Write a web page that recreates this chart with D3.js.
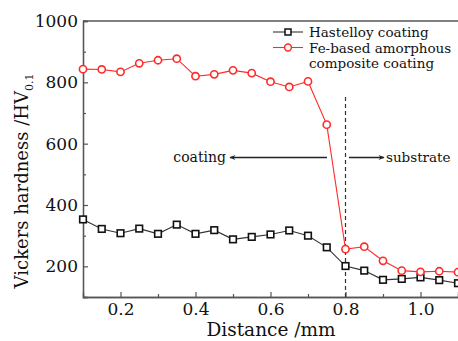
<!DOCTYPE html>
<html>
<head>
<meta charset="utf-8">
<script src="https://cdn.jsdelivr.net/npm/d3@7"></script>
<style>
  body { margin: 0; background: #fff; }
  svg, svg text { font-family: "DejaVu Serif", serif; }
</style>
</head>
<body>
<div id="chart"></div>
<script>
// distance along the cross section (mm)
const distance = [0.1, 0.15, 0.2, 0.25, 0.3, 0.35, 0.4, 0.45, 0.5, 0.55, 0.6, 0.65,
                  0.7, 0.75, 0.8, 0.85, 0.9, 0.95, 1.0, 1.05, 1.1];
const hastelloy = [353, 322, 308, 323, 306, 336, 306, 318, 288, 296, 304, 317,
                   300, 262, 201, 186, 156, 159, 164, 155, 145];
const feBased = [843, 842, 834, 862, 872, 877, 820, 826, 839, 830, 802, 785,
                 803, 662, 256, 264, 218, 186, 182, 184, 181];
const xTicks = [0.2, 0.4, 0.6, 0.8, 1.0];
const yTicks = [200, 400, 600, 800, 1000];
const legendNames = ["Hastelloy coating", "Fe-based amorphous", "composite coating"];

const W = 458, H = 341;
const m = {left: 83, top: 21, right: 0, bottom: 44};

const svg = d3.select("#chart").append("svg").attr("width", W).attr("height", H);

const x = d3.scaleLinear().domain([0.1, 1.1]).range([m.left, W - m.right]);
const y = d3.scaleLinear().domain([100, 1000]).range([H - m.bottom, m.top]);

const axisCol = "#555";

// top frame line
svg.append("line").attr("x1", m.left).attr("x2", W).attr("y1", m.top).attr("y2", m.top)
  .attr("stroke", axisCol).attr("stroke-width", 1.3);

// x axis (ticks pointing inward)
const xa = svg.append("g").attr("transform", `translate(0,${H - m.bottom})`)
  .call(d3.axisBottom(x).tickValues(xTicks).tickSize(-5).tickPadding(8).tickFormat(d3.format(".1f")));
const xm = svg.append("g").attr("transform", `translate(0,${H - m.bottom})`)
  .call(d3.axisBottom(x).tickValues([0.3, 0.5, 0.7, 0.9]).tickSize(-3).tickFormat(""));

// y axis
const ya = svg.append("g").attr("transform", `translate(${m.left},0)`)
  .call(d3.axisLeft(y).tickValues(yTicks).tickSize(-5).tickPadding(5).tickFormat(d3.format("d")));
const ym = svg.append("g").attr("transform", `translate(${m.left},0)`)
  .call(d3.axisLeft(y).tickValues([300, 500, 700, 900]).tickSize(-3).tickFormat(""));

[xa, xm, ya, ym].forEach(g => {
  g.attr("font-family", null);
  g.select(".domain").attr("stroke", axisCol).attr("stroke-width", 1.3);
  g.selectAll(".tick line").attr("stroke", axisCol).attr("stroke-width", 1.2);
  g.selectAll("text").attr("font-size", 17).attr("fill", "#111");
});
xa.selectAll("text").attr("dy", "0.6em");

// axis titles
svg.append("text").attr("x", 271).attr("y", 336).attr("text-anchor", "middle")
  .attr("font-size", 18.5).attr("fill", "#111").text("Distance /mm");
const yt = svg.append("text").attr("transform", "translate(28,181) rotate(-90)")
  .attr("text-anchor", "middle").attr("font-size", 18).attr("fill", "#111");
yt.append("tspan").text("Vickers hardness /HV");
yt.append("tspan").attr("font-size", 11).attr("dy", 5).text("0.1");

// boundary line at 0.8 mm
svg.append("line").attr("x1", x(0.8)).attr("x2", x(0.8)).attr("y1", 97).attr("y2", H - m.bottom)
  .attr("stroke", "#333").attr("stroke-width", 1.2).attr("stroke-dasharray", "4,3");

// arrows
const defs = svg.append("defs");
defs.append("marker").attr("id", "ah").attr("viewBox", "0 0 10 10").attr("refX", 9).attr("refY", 5)
  .attr("markerWidth", 10).attr("markerHeight", 6).attr("orient", "auto-start-reverse")
  .attr("markerUnits", "userSpaceOnUse")
  .append("path").attr("d", "M0,1 L10,5 L0,9 L3,5 Z").attr("fill", "#222");
svg.append("line").attr("x1", 327).attr("x2", 230).attr("y1", 157.5).attr("y2", 157.5)
  .attr("stroke", "#222").attr("stroke-width", 1.3).attr("marker-end", "url(#ah)");
svg.append("line").attr("x1", 349).attr("x2", 384).attr("y1", 157.5).attr("y2", 157.5)
  .attr("stroke", "#222").attr("stroke-width", 1.3).attr("marker-end", "url(#ah)");
svg.append("text").attr("x", 226).attr("y", 162).attr("text-anchor", "end")
  .attr("font-size", 14).attr("fill", "#111").text("coating");
svg.append("text").attr("x", 386).attr("y", 162)
  .attr("font-size", 13.5).attr("fill", "#111").text("substrate");

// series
const line = d3.line().x((d, i) => x(distance[i])).y(d => y(d));
const black = "#333", red = "#ff2a2a";

svg.append("path").datum(hastelloy).attr("d", line).attr("fill", "none")
  .attr("stroke", black).attr("stroke-width", 1.1);
svg.append("path").datum(feBased).attr("d", line).attr("fill", "none")
  .attr("stroke", red).attr("stroke-width", 1.1);

svg.append("g").selectAll("rect").data(hastelloy).join("rect")
  .attr("x", (d, i) => x(distance[i]) - 3.3).attr("y", d => y(d) - 3.3)
  .attr("width", 6.6).attr("height", 6.6)
  .attr("fill", "#fff").attr("stroke", "#111").attr("stroke-width", 1.6);
svg.append("g").selectAll("circle").data(feBased).join("circle")
  .attr("cx", (d, i) => x(distance[i])).attr("cy", d => y(d)).attr("r", 3.6)
  .attr("fill", "#fff").attr("stroke", red).attr("stroke-width", 1.6);

// legend
const lg = svg.append("g");
lg.append("line").attr("x1", 273).attr("x2", 303).attr("y1", 32).attr("y2", 32)
  .attr("stroke", black).attr("stroke-width", 1.1);
lg.append("rect").attr("x", 285).attr("y", 29).attr("width", 6).attr("height", 6)
  .attr("fill", "#fff").attr("stroke", "#111").attr("stroke-width", 1.5);
lg.append("line").attr("x1", 273).attr("x2", 303).attr("y1", 47.5).attr("y2", 47.5)
  .attr("stroke", red).attr("stroke-width", 1.1);
lg.append("circle").attr("cx", 288).attr("cy", 47.5).attr("r", 3.4)
  .attr("fill", "#fff").attr("stroke", red).attr("stroke-width", 1.5);
lg.selectAll("text").data(legendNames).join("text")
  .attr("x", 309).attr("y", (d, i) => 37 + i * 15.5)
  .attr("font-size", 13.5).attr("fill", "#111").text(d => d);
</script>
</body>
</html>
